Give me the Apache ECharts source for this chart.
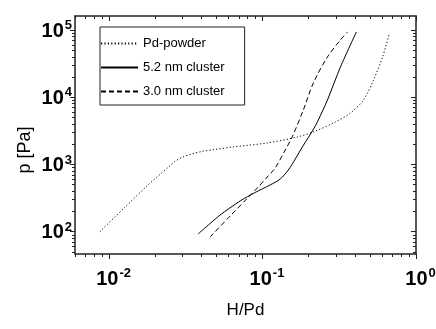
<!DOCTYPE html>
<html>
<head>
<meta charset="utf-8">
<script src="https://cdn.jsdelivr.net/npm/echarts@6/dist/echarts.min.js"></script>
<style>
html, body { margin: 0; padding: 0; background: #fff; }
#chart { width: 436px; height: 329px; }
</style>
</head>
<body>
<div id="chart"></div>
<script>
'use strict';

// data (H/Pd, p in Pa)
var powderX = [0.0087, 0.01259, 0.01778, 0.02145, 0.02419, 0.02688, 0.03032, 0.0347, 0.04035, 0.0491, 0.0643, 0.1073, 0.1686, 0.2145, 0.290, 0.374, 0.455, 0.529, 0.606, 0.672];
var powderY = [100, 227, 487, 710, 902, 1108, 1293, 1433, 1561, 1672, 1822, 2089, 2566, 3046, 4147, 5840, 9120, 18080, 39800, 90600];

var cluster52X = [0.0380, 0.0455, 0.0529, 0.0714, 0.0895, 0.112, 0.1305, 0.1472, 0.1636, 0.1817, 0.2018, 0.2208, 0.231, 0.265, 0.322, 0.409];
var cluster52Y = [92.5, 132, 177, 286, 383, 495, 608, 828, 1208, 1821, 2655, 3741, 4594, 9120, 28200, 93700];

var cluster30X = [0.0455, 0.0615, 0.0794, 0.0938, 0.1073, 0.121, 0.1406, 0.156, 0.1845, 0.2145, 0.265, 0.322, 0.358];
var cluster30Y = [83.4, 171, 312, 463, 651, 887, 1643, 2566, 6470, 16330, 39800, 71300, 93700];

var seriesNames = ['Pd-powder', '5.2 nm cluster', '3.0 nm cluster'];

// ticks
var xMajor = [0.01, 0.1, 1];
var xMinor = [0.006, 0.007, 0.008, 0.009, 0.02, 0.03, 0.04, 0.05, 0.06, 0.07, 0.08, 0.09, 0.2, 0.3, 0.4, 0.5, 0.6, 0.7, 0.8, 0.9];
var yMajor = [100, 1000, 10000, 100000];
var yMinor = [50, 60, 70, 80, 90, 200, 300, 400, 500, 600, 700, 800, 900, 2000, 3000, 4000, 5000, 6000, 7000, 8000, 9000,
	20000, 30000, 40000, 50000, 60000, 70000, 80000, 90000];

var xMin = 0.006, xMax = 1;
var yMin = 46.6, yMax = 161500;

function pairs(xs, ys) {
	return xs.map(function (x, i) { return [x, ys[i]]; });
}

function powLabel(v) {
	var e = Math.round(Math.log(v) / Math.LN10);
	return '{b|10}{s|' + e + '}';
}

var richText = {
	b: { fontSize: 20, fontWeight: 'bold', fontFamily: 'Liberation Sans', color: '#000', verticalAlign: 'bottom' },
	s: { fontSize: 13, fontWeight: 'bold', fontFamily: 'Liberation Sans', color: '#000', verticalAlign: 'bottom', padding: [0, 0, 9, 1] }
};

// one log axis: frame line, ticks, optional labels
function axis(pos, min, max, ticks, len, inside, line, labels, extra) {
	var a = {
		type: 'log',
		position: pos,
		min: min,
		max: max,
		axisLine: { show: line, lineStyle: { color: '#222', width: 1.5 } },
		axisTick: { show: true, inside: inside, length: len, customValues: ticks, lineStyle: { color: '#222', width: 1 } },
		axisLabel: { show: false },
		splitLine: { show: false },
		minorTick: { show: false }
	};
	if (labels) {
		a.axisLabel = {
			show: true,
			customValues: labels,
			formatter: powLabel,
			rich: richText
		};
	}
	if (extra) {
		for (var k in extra) {
			if (k === 'axisLabel') {
				for (var j in extra[k]) a.axisLabel[j] = extra[k][j];
			} else {
				a[k] = extra[k];
			}
		}
	}
	return a;
}

var chart = echarts.init(document.getElementById('chart'));

chart.setOption({
	backgroundColor: '#fff',
	animation: false,
	grid: { left: 75, right: 20, top: 16, bottom: 75, outerBoundsMode: 'none' },
	legend: {
		orient: 'vertical',
		left: 100,
		top: 27,
		data: seriesNames,
		itemWidth: 37,
		itemHeight: 14,
		itemGap: 11,
		padding: [10, 20, 7, 0],
		borderColor: '#222',
		borderWidth: 1,
		itemStyle: { opacity: 0 },
		textStyle: { fontSize: 13, fontFamily: 'Liberation Sans', color: '#000' }
	},
	xAxis: [
		axis('bottom', xMin, xMax, xMajor, 5, false, true, xMajor, {
			name: 'H/Pd', nameLocation: 'middle', nameGap: 48,
			nameTextStyle: { fontSize: 17, fontFamily: 'Liberation Sans', color: '#000' },
			axisLabel: { margin: 13, padding: [0, 0, 0, 9] }
		}),
		axis('bottom', xMin, xMax, xMinor, 3, false, false),
		axis('top', xMin, xMax, xMajor, 5, true, true),
		axis('top', xMin, xMax, xMinor, 3, true, false)
	],
	yAxis: [
		axis('left', yMin, yMax, yMajor, 5, false, true, yMajor, {
			name: 'p [Pa]', nameLocation: 'middle', nameGap: 41, nameMoveOverlap: false,
			nameTextStyle: { fontSize: 18, fontFamily: 'Liberation Sans', color: '#000', padding: [0, 30, 0, 0] },
			axisLabel: { margin: 3 }
		}),
		axis('left', yMin, yMax, yMinor, 3, false, false),
		axis('right', yMin, yMax, yMajor, 5, true, true),
		axis('right', yMin, yMax, yMinor, 3, true, false)
	],
	series: [
		{
			name: seriesNames[0], type: 'line', symbol: 'none', smooth: 0.3,
			data: pairs(powderX, powderY),
			lineStyle: { color: '#000', width: 1, type: [1.2, 2.2] },
			itemStyle: { color: '#000' }
		},
		{
			name: seriesNames[1], type: 'line', symbol: 'none', smooth: 0.3,
			data: pairs(cluster52X, cluster52Y),
			lineStyle: { color: '#000', width: 1, type: 'solid' },
			itemStyle: { color: '#000' }
		},
		{
			name: seriesNames[2], type: 'line', symbol: 'none', smooth: 0.3,
			data: pairs(cluster30X, cluster30Y),
			lineStyle: { color: '#000', width: 1, type: [5, 3] },
			itemStyle: { color: '#000' }
		}
	]
});
</script>
</body>
</html>
